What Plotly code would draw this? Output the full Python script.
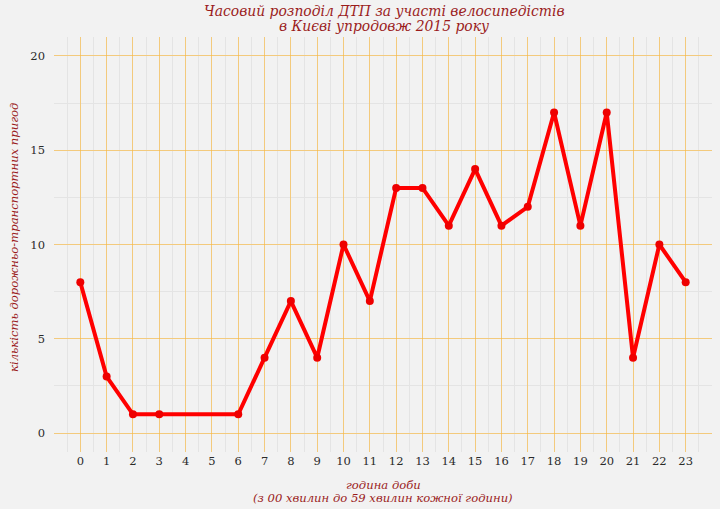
import plotly.graph_objects as go

hours = [0, 1, 2, 3, 6, 7, 8, 9, 10, 11, 12, 13, 14, 15, 16, 17, 18, 19, 20, 21, 22, 23]
counts = [8, 3, 1, 1, 1, 4, 7, 4, 10, 7, 13, 13, 11, 14, 11, 12, 17, 11, 17, 4, 10, 8]
x_ticks = list(range(24))
y_ticks = [0, 5, 10, 15, 20]

title_lines = ["Часовий розподіл ДТП за участі велосипедістів", "в Києві упродовж 2015 року"]
xtitle_lines = ["година доби", "(з 00 хвилин до 59 хвилин кожної години)"]
ytitle = "кількість дорожньо-транспортних пригод"

title_color = "#9b1c1c"
font_fam = "DejaVu Serif"

fig = go.Figure()
fig.add_trace(go.Scatter(
    x=hours, y=counts, mode="lines+markers",
    line=dict(color="#ff0000", width=4),
    marker=dict(color="#ee0000", size=8),
    hoverinfo="x+y", showlegend=False,
))

for txt, ys in zip(title_lines, [26, 11]):
    fig.add_annotation(
        text="<i>" + txt + "</i>",
        font=dict(family=font_fam, size=13.9, color=title_color),
        xref="paper", yref="paper", x=0.5015, y=1, xanchor="center", yanchor="middle",
        yshift=ys, showarrow=False,
    )

for txt, ys in zip(xtitle_lines, [-33, -46]):
    fig.add_annotation(
        text="<i>" + txt + "</i>",
        font=dict(family=font_fam, size=11.6, color=title_color),
        xref="paper", yref="paper", x=0.5, y=0, xanchor="center", yanchor="middle",
        yshift=ys, showarrow=False,
    )

fig.add_annotation(
    text="<i>" + ytitle + "</i>", textangle=-90,
    font=dict(family=font_fam, size=11.6, color=title_color),
    xref="paper", yref="paper", x=0, y=0.5157, xanchor="center", yanchor="middle",
    xshift=-40, showarrow=False,
)

fig.update_layout(
    width=720, height=509,
    margin=dict(l=54, r=8, t=37, b=57),
    paper_bgcolor="#f2f2f2", plot_bgcolor="#f2f2f2",
    font=dict(family=font_fam, size=11, color="#2a2a2a"),
    xaxis=dict(
        range=[-1, 24], tickmode="array", tickvals=x_ticks,
        ticktext=[str(v) for v in x_ticks], automargin=False,
        showgrid=True, gridcolor="rgba(255,180,40,0.55)", gridwidth=1,
        zeroline=False, showline=False, ticks="",
        tickfont=dict(family=font_fam, size=11.5, color="#2a2a2a"),
        minor=dict(dtick=0.5, tick0=0, showgrid=True, gridcolor="#e4e4e4", gridwidth=1),
    ),
    yaxis=dict(
        range=[-1, 21], tickmode="array", tickvals=y_ticks, automargin=False,
        showgrid=True, gridcolor="rgba(255,180,40,0.55)", gridwidth=1,
        zeroline=False, showline=False, ticks="", ticklabelstandoff=8,
        tickfont=dict(family=font_fam, size=11.5, color="#2a2a2a"),
        minor=dict(dtick=2.5, tick0=0, showgrid=True, gridcolor="#e4e4e4", gridwidth=1),
    ),
)

fig.write_html("out.html")
